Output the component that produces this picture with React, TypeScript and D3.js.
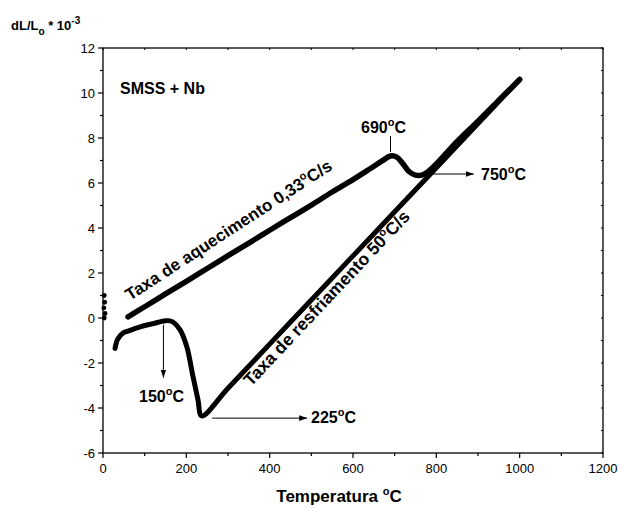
import React from "react";
import * as d3 from "d3";

// heating run (temperature in C, dL/Lo * 10^-3)
const heatT = [60, 100, 150, 200, 250, 300, 350, 400, 450, 500, 550, 600, 640, 670, 690, 705, 720, 735, 750, 765, 780, 800, 850, 900, 950, 1000];
const heatV = [0.05, 0.5, 1.07, 1.63, 2.2, 2.77, 3.33, 3.9, 4.46, 5.02, 5.6, 6.15, 6.62, 6.98, 7.2, 7.15, 6.85, 6.5, 6.35, 6.35, 6.5, 6.85, 7.85, 8.75, 9.68, 10.6];

// cooling run
const coolT = [1000, 900, 800, 700, 600, 500, 400, 300, 237, 228, 216, 201, 185, 165, 150, 120, 89, 60, 48, 35, 29];
const coolV = [10.6, 8.64, 6.68, 4.72, 2.76, 0.8, -1.16, -3.12, -4.35, -3.64, -2.6, -1.27, -0.53, -0.15, -0.12, -0.25, -0.39, -0.58, -0.67, -0.95, -1.35];

// scattered start points near 0 C
const noiseT = [3, 4, 2, 5, 3];
const noiseV = [1.0, 0.7, 0.45, 0.2, 0.0];

const xTicks = [0, 200, 400, 600, 800, 1000, 1200];
const yTicks = [-6, -4, -2, 0, 2, 4, 6, 8, 10, 12];

const font = "Arial, 'Liberation Sans', sans-serif";

const Deg = ({ t, tail = "C" }: { t: string; tail?: string }) => (
  <>
    {t}
    <tspan dy="-7" fontSize="11">o</tspan>
    <tspan dy="7">{tail}</tspan>
  </>
);

export default function App() {
  const left = 103, right = 603, top = 48, bottom = 453;
  const x = d3.scaleLinear().domain([0, 1200]).range([left, right]);
  const y = d3.scaleLinear().domain([-6, 12]).range([bottom, top]);

  const line = d3
    .line<[number, number]>()
    .x((d) => x(d[0]))
    .y((d) => y(d[1]))
    .curve(d3.curveCatmullRom.alpha(0.5));

  const heat = heatT.map((t, i) => [t, heatV[i]] as [number, number]);
  const cool = coolT.map((t, i) => [t, coolV[i]] as [number, number]);

  const minorX = d3.range(100, 1200, 200);
  const minorY = d3.range(-5, 12, 2);
  const allX = d3.range(0, 1201, 100);
  const allY = d3.range(-6, 13, 1);

  return (
    <svg width={621} height={508} style={{ position: "absolute", left: 0, top: 0 }} fontFamily={font}>
      <defs>
        <marker id="arr" viewBox="0 0 10 10" refX="10" refY="5" markerWidth="8" markerHeight="8" markerUnits="userSpaceOnUse" orient="auto">
          <path d="M0,1.5 L10,5 L0,8.5 z" fill="#000" />
        </marker>
      </defs>
      <rect width={621} height={508} fill="#fff" />

      {/* frame */}
      <rect x={left} y={top} width={right - left} height={bottom - top} fill="none" stroke="#000" strokeWidth={1.3} />

      {/* bottom axis ticks */}
      {xTicks.map((t) => (
        <line key={"xb" + t} x1={x(t)} x2={x(t)} y1={bottom} y2={bottom + 5} stroke="#000" strokeWidth={1.2} />
      ))}
      {minorX.map((t) => (
        <line key={"xm" + t} x1={x(t)} x2={x(t)} y1={bottom} y2={bottom + 3} stroke="#000" strokeWidth={1.2} />
      ))}
      {/* top axis ticks, inward */}
      {allX.map((t) => (
        <line key={"xt" + t} x1={x(t)} x2={x(t)} y1={top} y2={top + 2} stroke="#000" strokeWidth={1} />
      ))}
      {/* left axis ticks */}
      {yTicks.map((t) => (
        <line key={"yl" + t} x1={left - 5} x2={left} y1={y(t)} y2={y(t)} stroke="#000" strokeWidth={1.2} />
      ))}
      {minorY.map((t) => (
        <line key={"ym" + t} x1={left - 3} x2={left} y1={y(t)} y2={y(t)} stroke="#000" strokeWidth={1.2} />
      ))}
      {/* right axis ticks, inward */}
      {allY.map((t) => (
        <line key={"yr" + t} x1={right - 2} x2={right} y1={y(t)} y2={y(t)} stroke="#000" strokeWidth={1} />
      ))}

      {/* tick labels */}
      {xTicks.map((t) => (
        <text key={"xl" + t} x={x(t)} y={bottom + 20} textAnchor="middle" fontSize={13}>
          {t}
        </text>
      ))}
      {yTicks.map((t) => (
        <text key={"ylb" + t} x={left - 8} y={y(t) + 4.5} textAnchor="end" fontSize={13}>
          {t}
        </text>
      ))}

      {/* axis titles */}
      <text x={11} y={30} fontSize={13} fontWeight="bold">
        dL/L<tspan dy="5" fontSize="10">o</tspan>
        <tspan dy="-5"> * 10</tspan>
        <tspan dy="-6" fontSize="10">-3</tspan>
      </text>
      <text x={339} y={502} textAnchor="middle" fontSize={17} fontWeight="bold">
        Temperatura <tspan dy="-7" fontSize="11">o</tspan>
        <tspan dy="7">C</tspan>
      </text>

      {/* curves */}
      <path d={line(heat) ?? ""} fill="none" stroke="#000" strokeWidth={5.5} strokeLinecap="round" strokeLinejoin="round" />
      <path d={line(cool) ?? ""} fill="none" stroke="#000" strokeWidth={5} strokeLinecap="round" strokeLinejoin="round" />
      {noiseT.map((t, i) => (
        <circle key={"n" + i} cx={x(t)} cy={y(noiseV[i])} r={2.4} fill="#000" />
      ))}

      {/* annotations */}
      <text x={120} y={94} fontSize={16} fontWeight="bold">SMSS + Nb</text>

      <line x1={x(690)} x2={x(690)} y1={y(7.2) - 4} y2={123} stroke="#000" strokeWidth={1} markerEnd="url(#arr)" />
      <rect x={359} y={117} width={54} height={19} fill="#fff" />
      <text x={361} y={133} fontSize={16} fontWeight="bold"><Deg t="690" /></text>

      <line x1={x(785)} x2={x(890)} y1={y(6.4)} y2={y(6.4)} stroke="#000" strokeWidth={1} markerEnd="url(#arr)" />
      <text x={481} y={180} fontSize={16} fontWeight="bold"><Deg t="750" /></text>

      <line x1={x(145)} x2={x(145)} y1={y(-0.12) + 4} y2={y(-2.65)} stroke="#000" strokeWidth={1} markerEnd="url(#arr)" />
      <text x={139} y={402} fontSize={16} fontWeight="bold"><Deg t="150" /></text>

      <line x1={x(262)} x2={x(490)} y1={y(-4.45)} y2={y(-4.45)} stroke="#000" strokeWidth={1} markerEnd="url(#arr)" />
      <text x={311} y={423} fontSize={16} fontWeight="bold"><Deg t="225" /></text>

      <text transform={`translate(130,301) rotate(-33)`} fontSize={17} fontWeight="bold">
        Taxa de aquecimento <Deg t="0,33" tail="C/s" />
      </text>
      <text transform={`translate(251,387) rotate(-46.7)`} fontSize={17.5} fontWeight="bold">
        Taxa de resfriamento <Deg t="50" tail="C/s" />
      </text>
    </svg>
  );
}
